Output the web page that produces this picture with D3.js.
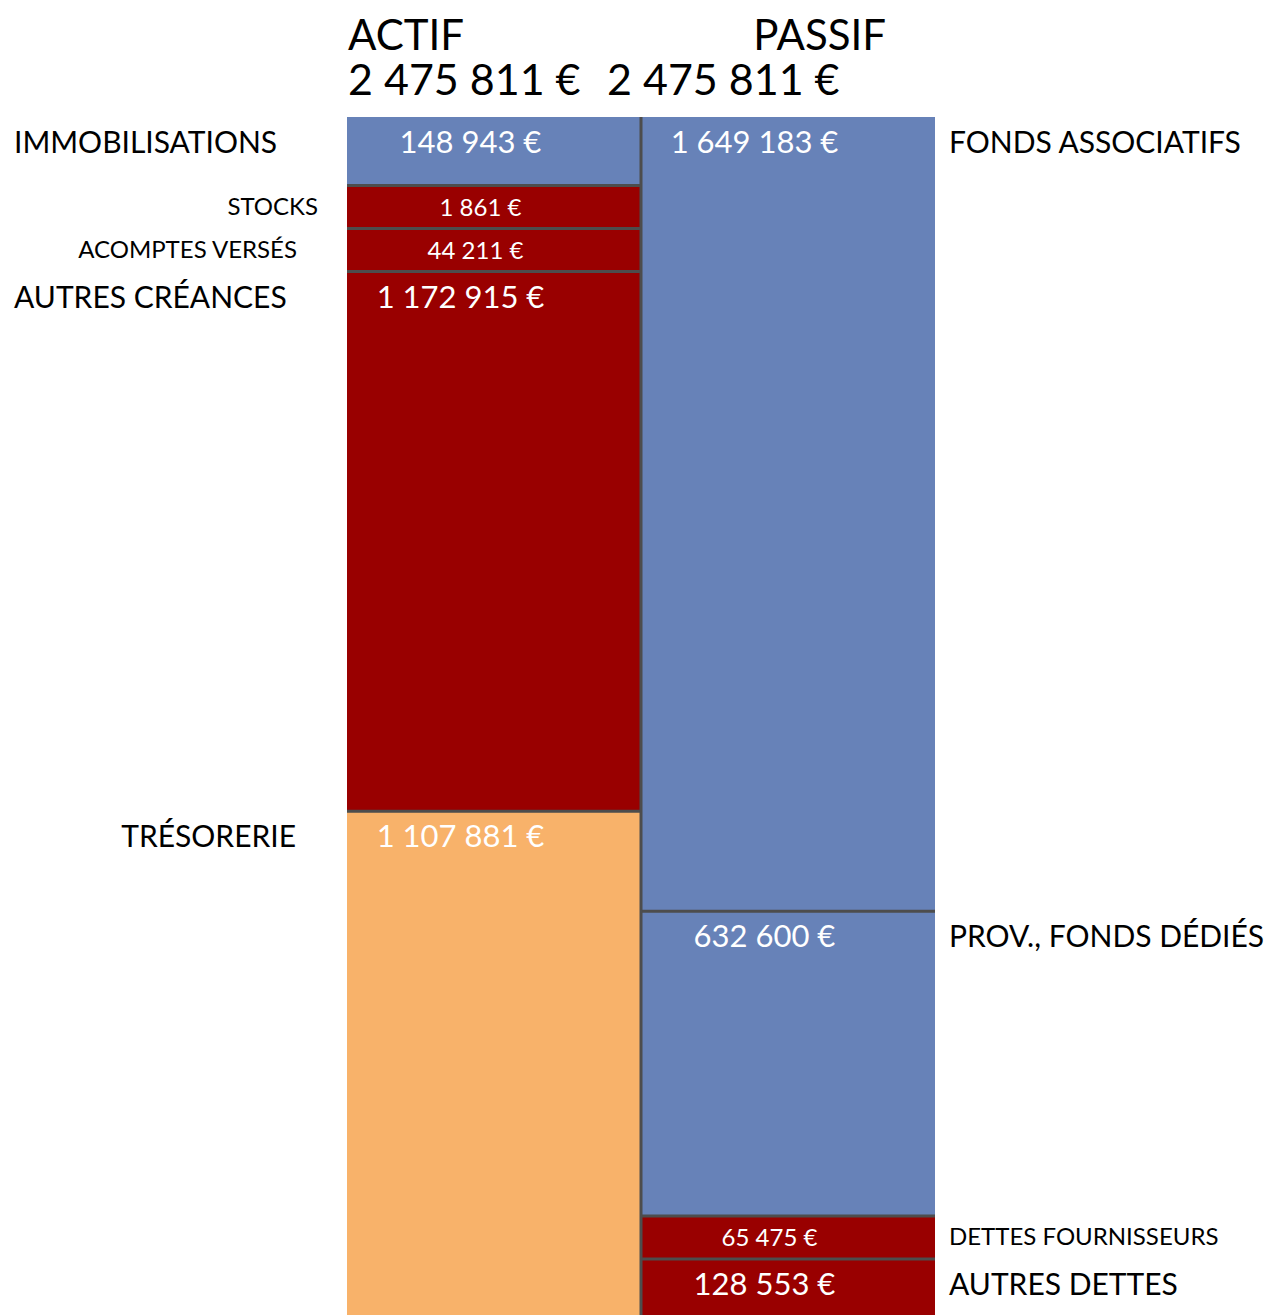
<!DOCTYPE html>
<html><head><meta charset="utf-8">
<script src="https://cdn.jsdelivr.net/npm/d3@7"></script>
<style>body{margin:0;background:#fff}svg{display:block}</style>
</head><body>
<div id="chart"></div>
<script>
// ---- data ----
const columnTitles = ["ACTIF", "PASSIF"];
const actifCategories = ["IMMOBILISATIONS", "STOCKS", "ACOMPTES VERSÉS", "AUTRES CRÉANCES", "TRÉSORERIE"];
const actifValues = [148943, 1861, 44211, 1172915, 1107881];
const passifCategories = ["FONDS ASSOCIATIFS", "PROV., FONDS DÉDIÉS", "DETTES FOURNISSEURS", "AUTRES DETTES"];
const passifValues = [1649183, 632600, 65475, 128553];

// ---- styles ----
const BLUE = "#6782b8", RED = "#990000", ORANGE = "#f8b26a", SEP = "#4d4d4d";
const actifFill = [BLUE, RED, RED, RED, ORANGE];
const passifFill = [BLUE, BLUE, RED, RED];
const FONT = "Lato, 'Open Sans', sans-serif";

const W = 1268, Hpx = 1315;
const TOP = 117, colH = 1204, minH = 43;
const x = d3.scaleBand().domain(columnTitles).range([347, 935]).paddingInner(0);

const fr = d3.formatLocale({decimal: ",", thousands: "\u00a0", grouping: [3], currency: ["", " €"]});
const fmt = v => fr.format(",d")(v) + " €";

function layout(values) {
  // heights proportional to value, with a minimum height for tiny items
  let isMin = values.map(() => false);
  for (let it = 0; it < 10; it++) {
    const nMin = isMin.filter(Boolean).length;
    const sumBig = d3.sum(values.filter((v, i) => !isMin[i]));
    const s = d3.scaleLinear().domain([0, sumBig]).range([0, colH - nMin * minH]);
    const next = values.map(v => s(v) < minH);
    if (next.every((b, i) => b === isMin[i])) {
      let y = TOP;
      return values.map((v, i) => {
        const h = isMin[i] ? minH : s(v);
        const r = {y0: y, h, small: isMin[i], value: v, i};
        y += h;
        return r;
      });
    }
    isMin = next;
  }
}

const svg = d3.select("#chart").append("svg").attr("width", W).attr("height", Hpx)
  .style("font-family", FONT);

// titles
const bw = x.bandwidth();
svg.append("text").attr("x", 348).attr("y", 50).attr("font-size", 42).text(columnTitles[0]);
svg.append("text").attr("x", 886).attr("y", 50).attr("text-anchor", "end").attr("font-size", 42).text(columnTitles[1]);
const totA = d3.sum(actifValues), totP = d3.sum(passifValues);
svg.append("text").attr("x", 348).attr("y", 95).attr("font-size", 43).text(fmt(totA));
svg.append("text").attr("x", 607).attr("y", 95).attr("font-size", 43).text(fmt(totP));

function drawColumn(col, cats, values, fills, labelSpec) {
  const x0 = x(col);
  const segs = layout(values);
  const g = svg.append("g");
  g.selectAll("rect").data(segs).join("rect")
    .attr("x", x0).attr("y", d => d.y0).attr("width", bw).attr("height", d => d.h)
    .attr("fill", d => fills[d.i]);
  // separators
  g.selectAll("line.sep").data(segs.slice(1)).join("line").attr("class", "sep")
    .attr("x1", x0).attr("x2", x0 + bw).attr("y1", d => d.y0).attr("y2", d => d.y0)
    .attr("stroke", SEP).attr("stroke-width", 3);
  // values
  g.selectAll("text.val").data(segs).join("text").attr("class", "val")
    .attr("x", d => x0 + bw * 0.42 - (fmt(d.value).length - 9) * 5)
    .attr("y", d => d.y0 + (d.small ? 30 : 36))
    .attr("text-anchor", "middle").attr("fill", "#fff")
    .attr("font-size", d => d.small ? 24 : 31)
    .text(d => fmt(d.value));
  // category labels
  g.selectAll("text.cat").data(segs).join("text").attr("class", "cat")
    .attr("x", d => labelSpec[d.i][0])
    .attr("text-anchor", d => labelSpec[d.i][1])
    .attr("y", d => d.y0 + (d.small ? 29 : 36))
    .attr("font-size", d => d.small ? 24 : 30)
    .attr("fill", "#000")
    .text(d => cats[d.i]);
}

drawColumn("ACTIF", actifCategories, actifValues, actifFill,
  [[14, "start"], [318, "end"], [297, "end"], [14, "start"], [296, "end"]]);
drawColumn("PASSIF", passifCategories, passifValues, passifFill,
  [[949, "start"], [949, "start"], [949, "start"], [949, "start"]]);

// middle divider
svg.append("line").attr("x1", x("PASSIF")).attr("x2", x("PASSIF"))
  .attr("y1", TOP).attr("y2", TOP + colH).attr("stroke", SEP).attr("stroke-width", 3);
</script>
</body></html>
